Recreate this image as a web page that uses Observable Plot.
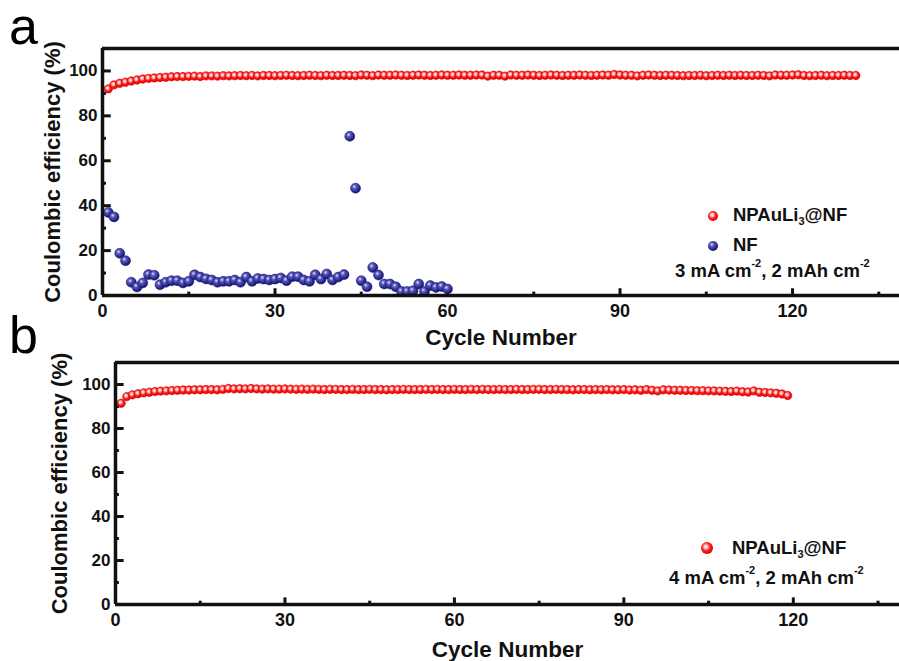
<!DOCTYPE html>
<html>
<head>
<meta charset="utf-8">
<script src="https://cdn.jsdelivr.net/npm/d3@7"></script>
<script src="https://cdn.jsdelivr.net/npm/@observablehq/plot@0.6"></script>
<style>
  html, body { margin: 0; padding: 0; background: #fff; }
  #fig { position: relative; width: 899px; height: 661px; overflow: hidden; font-family: "Liberation Sans", Arial, sans-serif; }
  #fig svg { position: absolute; left: 0; overflow: visible; }
  .panel-letter { position: absolute; font-size: 52px; line-height: 1; color: #000; }
</style>
</head>
<body>
<div id="fig">
  <div class="panel-letter" style="left:9px; top:0px;">a</div>
  <div class="panel-letter" style="left:9px; top:309px;">b</div>
</div>
<script>
// ---------------- DATA ----------------
const xTicks = [0, 30, 60, 90, 120];
const xMinorTicks = [15, 45, 75, 105, 135];
const yTicks = [0, 20, 40, 60, 80, 100];
const yMinorTicks = [10, 30, 50, 70, 90];

// Panel a: NPAuLi3@NF, 3 mA cm-2, 2 mAh cm-2 (cycles 1..131)
const ceRedA = [
  92.0, 93.8, 94.5, 95.0, 95.5, 96.0, 96.4, 96.7, 96.9, 97.1,
  97.2, 97.4, 97.5, 97.5, 97.6, 97.7, 97.5, 97.8, 97.8, 97.7,
  97.9, 97.8, 97.9, 98.0, 97.9, 98.0, 97.8, 98.0, 98.0, 97.9,
  98.0, 98.1, 98.0, 97.9, 98.0, 98.1, 98.0, 97.9, 98.1, 98.0,
  98.0, 98.1, 98.0, 97.9, 98.2, 98.1, 97.9, 98.2, 98.1, 98.1,
  98.2, 98.1, 98.0, 98.1, 98.2, 98.1, 98.0, 98.1, 98.2, 98.1,
  98.1, 98.2, 98.1, 98.1, 98.2, 98.2, 97.7, 98.1, 98.1, 97.7,
  98.2, 98.1, 98.1, 98.2, 98.1, 98.0, 98.1, 98.2, 98.1, 98.0,
  98.1, 98.1, 98.2, 98.1, 98.0, 98.1, 98.2, 98.1, 98.4, 98.2,
  98.1, 98.1, 97.8, 98.1, 98.2, 98.1, 98.0, 98.1, 98.1, 98.0,
  97.9, 98.0, 98.0, 98.1, 97.9, 98.0, 98.1, 98.0, 98.1, 98.0,
  98.1, 98.0, 98.0, 98.1, 98.0, 97.8, 98.2, 98.1, 98.1, 98.2,
  98.3, 98.0, 97.9, 98.0, 98.1, 97.9, 98.0, 98.0, 98.1, 98.0,
  98.0
];
// Panel a: NF (cycles 1..60)
const ceBlueA = [
  37.0, 35.0, 18.8, 15.5, 5.9, 3.8, 5.6, 9.3, 9.0, 4.8,
  5.9, 6.6, 6.6, 5.6, 6.3, 9.2, 8.2, 7.4, 6.9, 5.9,
  6.3, 6.3, 6.9, 5.9, 8.2, 6.3, 7.6, 7.3, 6.9, 7.3,
  7.8, 6.6, 8.4, 8.4, 6.9, 6.3, 9.2, 7.3, 9.6, 6.9,
  8.2, 9.3, 70.9, 47.8, 6.6, 3.9, 12.5, 9.1, 5.1, 5.1,
  3.9, 1.8, 1.8, 2.1, 5.1, 1.8, 4.4, 3.6, 4.0, 2.9
];
// Panel b: NPAuLi3@NF, 4 mA cm-2, 2 mAh cm-2 (cycles 1..119)
const ceRedB = [
  91.5, 94.5, 95.3, 95.8, 96.2, 96.5, 96.8, 97.0, 97.1, 97.3,
  97.4, 97.5, 97.5, 97.6, 97.6, 97.7, 97.7, 97.6, 97.8, 98.2,
  98.0, 98.1, 98.0, 98.2, 98.0, 97.9, 98.0, 97.9, 97.9, 98.0,
  97.9, 97.8, 97.9, 97.8, 97.9, 97.8, 97.7, 97.8, 97.8, 97.7,
  97.7, 97.8, 97.7, 97.7, 97.8, 97.7, 97.7, 97.6, 97.7, 97.7,
  97.8, 97.7, 97.7, 97.7, 97.8, 97.7, 97.8, 97.7, 97.7, 97.8,
  97.7, 97.7, 97.8, 97.7, 97.8, 97.7, 97.7, 97.8, 97.7, 97.7,
  97.8, 97.7, 97.7, 97.8, 97.8, 97.7, 97.7, 97.8, 97.7, 97.7,
  97.6, 97.7, 97.7, 97.6, 97.7, 97.6, 97.7, 97.6, 97.6, 97.7,
  97.5, 97.6, 97.4, 97.7, 97.4, 97.1, 97.6, 97.5, 97.4, 97.4,
  97.3, 97.3, 97.2, 97.2, 97.1, 97.1, 97.0, 96.9, 96.8, 97.0,
  96.7, 96.6, 97.1, 96.5, 96.4, 96.2, 96.0, 95.7, 95.0
];

const seriesA = [
  {name: "NPAuLi3@NF", values: ceRedA},
  {name: "NF", values: ceBlueA}
];

// ---------------- HELPERS ----------------
const fig = document.getElementById("fig");

function addGradients(svg, prefix) {
  const defs = d3.select(svg).insert("defs", ":first-child");
  const red = defs.append("radialGradient").attr("id", prefix + "Red")
    .attr("cx", "42%").attr("cy", "40%").attr("r", "60%");
  red.append("stop").attr("offset", "0").attr("stop-color", "#ffffff");
  red.append("stop").attr("offset", "0.3").attr("stop-color", "#ffb0b0");
  red.append("stop").attr("offset", "0.55").attr("stop-color", "#ff2020");
  red.append("stop").attr("offset", "1").attr("stop-color", "#e00000");
  const blue = defs.append("radialGradient").attr("id", prefix + "Blue")
    .attr("cx", "38%").attr("cy", "35%").attr("r", "65%");
  blue.append("stop").attr("offset", "0").attr("stop-color", "#e8e8ff");
  blue.append("stop").attr("offset", "0.3").attr("stop-color", "#5a5ac0");
  blue.append("stop").attr("offset", "1").attr("stop-color", "#10106e");
}

function toPoints(values) {
  return values.map((v, i) => ({cycle: i + 1, ce: v}));
}

function addText(svg, x, y, parts, anchor) {
  const t = d3.select(svg).append("text")
    .attr("x", x).attr("y", y)
    .attr("font-family", "Liberation Sans, Arial, sans-serif")
    .attr("font-weight", "bold").attr("font-size", 18.5)
    .attr("dominant-baseline", "middle")
    .attr("text-anchor", anchor || "start")
    .attr("fill", "#111");
  for (const p of parts) {
    const s = t.append("tspan").text(p.t);
    if (p.sub) s.attr("font-size", 11).attr("dy", 6);
    if (p.sup) s.attr("font-size", 11).attr("dy", -8);
    if (p.reset) s.attr("dy", p.reset);
  }
  return t;
}

function panel({marginLeft, marginTop, marginBottom, height, xMax, marks, pid, xLabelDy, yLabelDx}) {
  const svg = Plot.plot({
    width: 899,
    height,
    marginLeft,
    marginRight: 0,
    marginTop,
    marginBottom,
    style: {fontFamily: "Liberation Sans, Arial, sans-serif", background: "transparent", color: "#111"},
    x: {domain: [0, xMax]},
    y: {domain: [0, 110]},
    marks: [
      Plot.axisX(xTicks, {tickSize: 0, tickPadding: 9, fontSize: 18, fontWeight: "bold", label: null}),
      Plot.axisY(yTicks, {tickSize: 0, tickPadding: 5, fontSize: 17, fontWeight: "bold", label: null}),
      // tick marks (inward)
      Plot.ruleX(xTicks, {y1: 0, y2: 3, strokeWidth: 3, stroke: "#111"}),
      Plot.ruleX(xMinorTicks, {y1: 0, y2: 1.5, strokeWidth: 3, stroke: "#111"}),
      Plot.ruleY(yTicks, {x1: 0, x2: xMax * 0.011, strokeWidth: 3, stroke: "#111"}),
      Plot.ruleY(yMinorTicks, {x1: 0, x2: xMax * 0.005, strokeWidth: 3, stroke: "#111"}),
      ...marks,
      // frame lines
      Plot.ruleY([0, 110], {strokeWidth: 3.5, stroke: "#111"}),
      Plot.ruleX([0], {strokeWidth: 3.5, stroke: "#111"}),
      Plot.text(["Cycle Number"], {frameAnchor: "bottom", lineAnchor: "bottom", textAnchor: "middle", dy: xLabelDy, fontSize: 22.5, fontWeight: "bold", fill: "#111"}),
      Plot.text(["Coulombic efficiency (%)"], {frameAnchor: "left", textAnchor: "middle", lineAnchor: "middle", rotate: -90, dx: yLabelDx, fontSize: 22, fontWeight: "bold", fill: "#111"})
    ]
  });
  addGradients(svg, pid);
  return svg;
}

// ---------------- PANEL A ----------------
const svgA = panel({
  pid: "a",
  marginLeft: 102, marginTop: 48, marginBottom: 50, height: 345, xMax: 138.6,
  xLabelDy: 49, yLabelDx: -50,
  marks: [
    Plot.dot(toPoints(seriesA[0].values), {x: "cycle", y: "ce", r: 4.2, fill: "url(#aRed)", stroke: "#e00000", strokeWidth: 0.6}),
    Plot.dot(toPoints(seriesA[1].values), {x: "cycle", y: "ce", r: 5, fill: "url(#aBlue)", stroke: "#10106e", strokeWidth: 0.5})
  ]
});
svgA.style.top = "0px";
fig.appendChild(svgA);
{
  const g = d3.select(svgA);
  g.append("circle").attr("cx", 713).attr("cy", 216).attr("r", 5).attr("fill", "url(#aRed)");
  g.append("circle").attr("cx", 713).attr("cy", 246).attr("r", 5).attr("fill", "url(#aBlue)");
  addText(svgA, 733, 216, [{t: "NPAuLi"}, {t: "3", sub: true}, {t: "@NF", reset: -6}]);
  addText(svgA, 733, 246, [{t: "NF"}]);
  addText(svgA, 675, 272, [{t: "3 mA cm"}, {t: "-2", sup: true}, {t: ", 2 mAh cm", reset: 8}, {t: "-2", sup: true}]);
}

// ---------------- PANEL B ----------------
const svgB = panel({
  pid: "b",
  marginLeft: 115, marginTop: 47, marginBottom: 57, height: 346, xMax: 138.8,
  xLabelDy: 52, yLabelDx: -56,
  marks: [
    Plot.dot(toPoints(ceRedB), {x: "cycle", y: "ce", r: 4.2, fill: "url(#bRed)", stroke: "#e00000", strokeWidth: 0.6})
  ]
});
svgB.style.top = "315px";
fig.appendChild(svgB);
{
  const g = d3.select(svgB);
  g.append("circle").attr("cx", 707).attr("cy", 233).attr("r", 6).attr("fill", "url(#bRed)");
  addText(svgB, 732, 234, [{t: "NPAuLi"}, {t: "3", sub: true}, {t: "@NF", reset: -6}]);
  addText(svgB, 669, 264, [{t: "4 mA cm"}, {t: "-2", sup: true}, {t: ", 2 mAh cm", reset: 8}, {t: "-2", sup: true}]);
}
</script>
</body>
</html>
